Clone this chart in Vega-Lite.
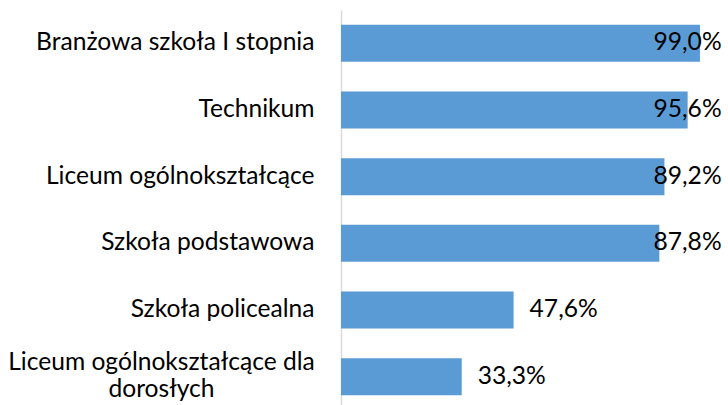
{
  "$schema": "https://vega.github.io/schema/vega-lite/v6.json",
  "autosize": {"type": "none"},
  "padding": {"left": 341, "top": 10, "right": 24.4, "bottom": -5},
  "width": 362.6,
  "height": 400,
  "background": "white",
  "config": {
    "view": {"stroke": null},
    "font": "Lato",
    "locale": {"number": {"decimal": ",", "thousands": " ", "grouping": [3], "currency": ["", " zł"]}}
  },
  "data": {
    "values": [
      {"szkola": "Branżowa szkoła I stopnia", "value": 0.990},
      {"szkola": "Technikum", "value": 0.956},
      {"szkola": "Liceum ogólnokształcące", "value": 0.892},
      {"szkola": "Szkoła podstawowa", "value": 0.878},
      {"szkola": "Szkoła policealna", "value": 0.476},
      {"szkola": "Liceum ogólnokształcące dla dorosłych", "value": 0.333}
    ]
  },
  "encoding": {
    "y": {
      "field": "szkola",
      "type": "nominal",
      "sort": null,
      "scale": {"paddingInner": 0.445, "paddingOuter": 0.2225},
      "axis": {
        "title": null,
        "ticks": false,
        "domainColor": "#d9d9d9",
        "domainWidth": 1.5,
        "labelFont": "Lato",
        "labelFontSize": 24.6,
        "labelColor": "#000000",
        "labelPadding": {"condition": {"test": "datum.value == 'Liceum ogólnokształcące dla dorosłych'", "value": 180}, "value": 27},
        "labelAlign": {"condition": {"test": "datum.value == 'Liceum ogólnokształcące dla dorosłych'", "value": "center"}, "value": "right"},
        "labelLimit": 400,
        "labelLineHeight": 27,
        "labelOffset": {"condition": {"test": "datum.value == 'Liceum ogólnokształcące dla dorosłych'", "value": -13.5}, "value": 0},
        "labelExpr": "datum.label == 'Liceum ogólnokształcące dla dorosłych' ? ['Liceum ogólnokształcące dla', 'dorosłych'] : datum.label"
      }
    }
  },
  "layer": [
    {
      "mark": {"type": "bar", "color": "#5B9BD5"},
      "encoding": {
        "x": {
          "field": "value",
          "type": "quantitative",
          "scale": {"domain": [0, 1], "nice": false},
          "axis": null
        }
      }
    },
    {
      "transform": [{"filter": "datum.value > 0.8"}],
      "mark": {"type": "text", "align": "right", "baseline": "middle", "fontSize": 24.6, "font": "Lato", "color": "#000000", "dx": 18},
      "encoding": {
        "x": {"datum": 1, "type": "quantitative"},
        "text": {"field": "value", "type": "quantitative", "format": ".1%"}
      }
    },
    {
      "transform": [{"filter": "datum.value <= 0.8"}],
      "mark": {"type": "text", "align": "left", "baseline": "middle", "fontSize": 24.6, "font": "Lato", "color": "#000000", "dx": 16},
      "encoding": {
        "x": {"field": "value", "type": "quantitative"},
        "text": {"field": "value", "type": "quantitative", "format": ".1%"}
      }
    }
  ]
}
